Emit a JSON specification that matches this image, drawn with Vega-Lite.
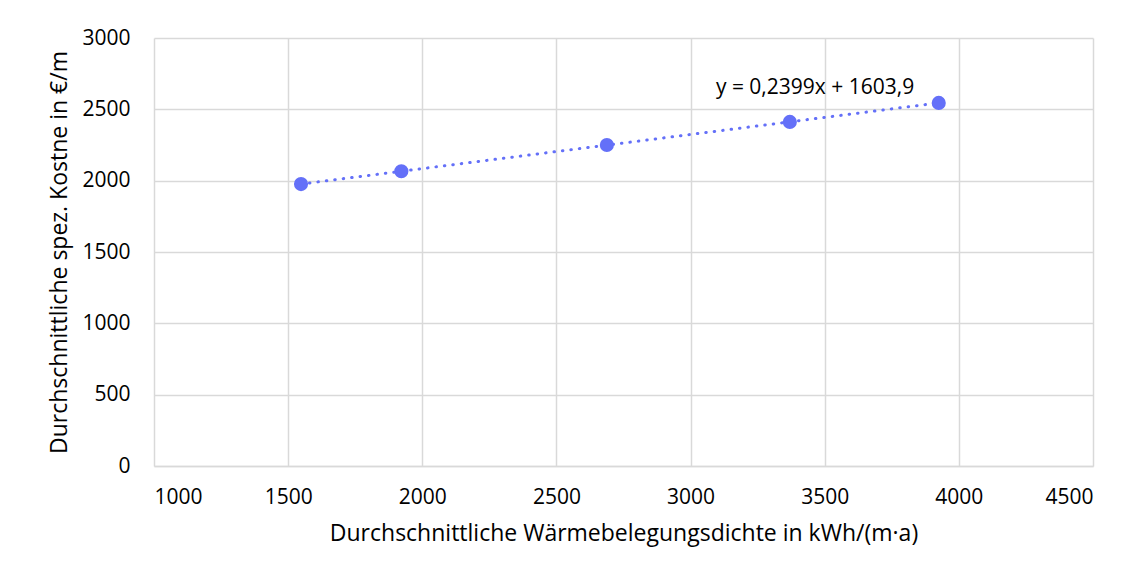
{
  "$schema": "https://vega.github.io/schema/vega-lite/v6.json",
  "width": 939,
  "height": 428,
  "autosize": {"type": "none"},
  "padding": {"left": 154, "top": 38, "right": 44, "bottom": 111},
  "background": "white",
  "config": {
    "view": {"stroke": null}
  },
  "data": {
    "values": [
      {"x": 1548, "y": 1976},
      {"x": 1922, "y": 2066},
      {"x": 2688, "y": 2250},
      {"x": 3370, "y": 2412},
      {"x": 3925, "y": 2545}
    ]
  },
  "encoding": {
    "x": {"field": "x", "type": "quantitative", "scale": {"domain": [1000, 4500], "nice": false},
      "axis": {"title": "Durchschnittliche Wärmebelegungsdichte in kWh/(m·a)", "values": [1000,1500,2000,2500,3000,3500,4000,4500], "format": "d", "labelOverlap": false,
        "labelPadding": 20, "titlePadding": 15, "domain": true, "domainColor": "#d9d9d9", "domainWidth": 1.5, "ticks": false,
        "gridColor": "#d9d9d9", "gridWidth": 1.5,
        "labelFont": "Open Sans", "labelFontSize": 21, "labelColor": "#000000",
        "titleFont": "Open Sans", "titleFontSize": 23, "titleFontWeight": "normal", "titleColor": "#000000"}},
    "y": {"field": "y", "type": "quantitative", "scale": {"domain": [0, 3000], "nice": false},
      "axis": {"title": "Durchschnittliche spez. Kostne in €/m", "values": [0,500,1000,1500,2000,2500,3000], "format": "d", "labelOverlap": false,
        "labelPadding": 24, "titlePadding": 10, "domain": false, "ticks": false,
        "gridColor": "#d9d9d9", "gridWidth": 1.5,
        "labelFont": "Open Sans", "labelFontSize": 21, "labelColor": "#000000",
        "titleFont": "Open Sans", "titleFontSize": 23, "titleFontWeight": "normal", "titleColor": "#000000"}}
  },
  "layer": [
    {
      "transform": [{"regression": "y", "on": "x"}],
      "mark": {"type": "line", "color": "#6470f8", "strokeWidth": 3, "strokeDash": [0.5, 8], "strokeCap": "round"}
    },
    {
      "mark": {"type": "point", "filled": true, "color": "#6470f8", "opacity": 1, "size": 200}
    },
    {
      "data": {"values": [{"x": 3464, "y": 2650, "label": "y = 0,2399x + 1603,9"}]},
      "mark": {"type": "text", "fontSize": 21, "font": "Open Sans", "color": "#000000"},
      "encoding": {
        "text": {"field": "label"}
      }
    }
  ]
}
